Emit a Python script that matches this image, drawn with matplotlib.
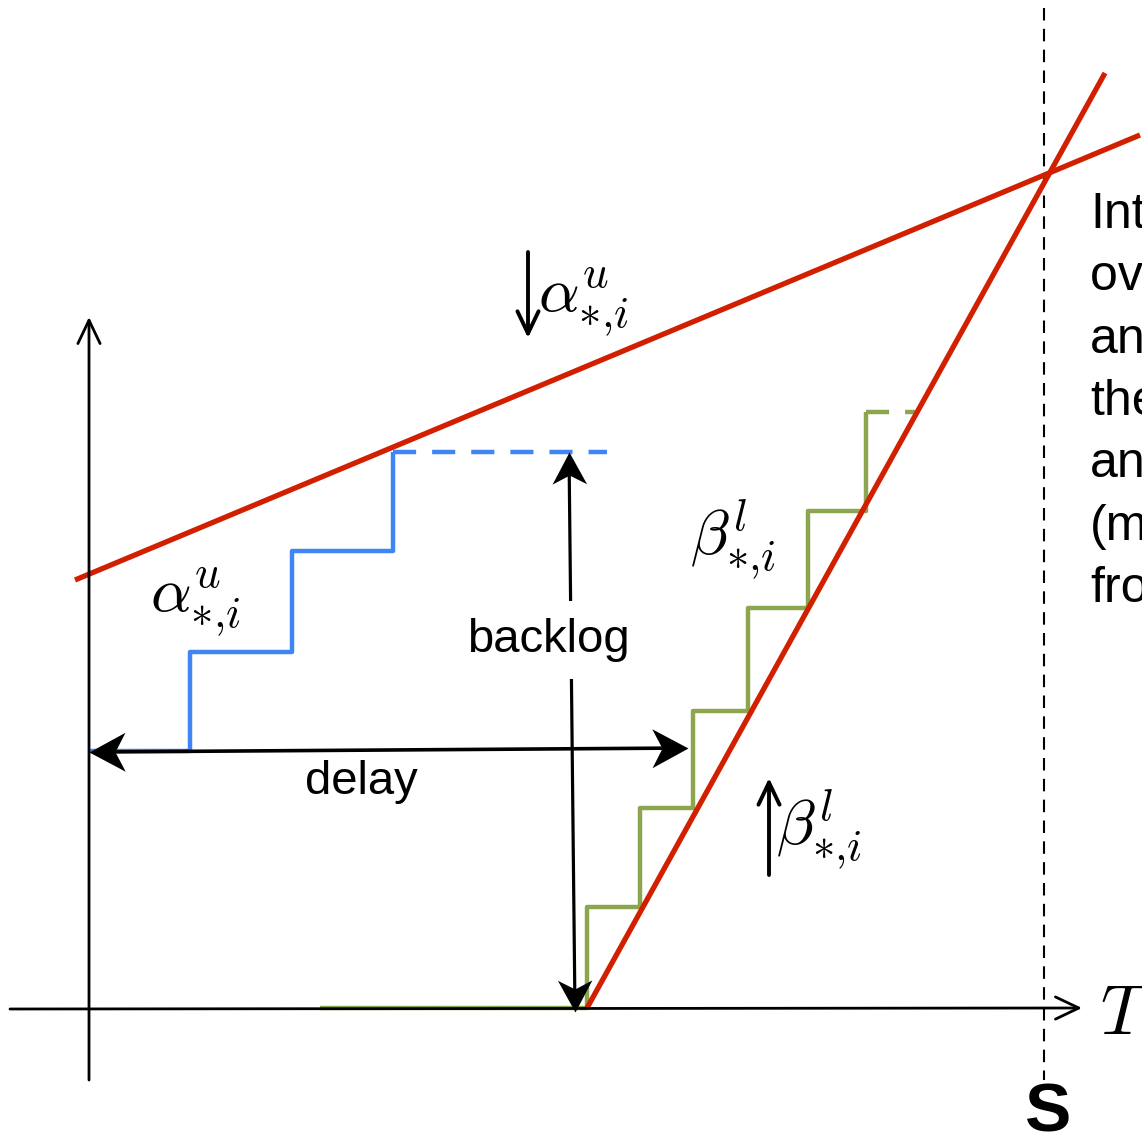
import numpy as np
import matplotlib.pyplot as plt
from matplotlib.markers import MarkerStyle
from matplotlib.path import Path
from matplotlib.transforms import Affine2D

plt.rcParams['mathtext.fontset'] = 'cm'
plt.rcParams['font.family'] = ['Liberation Sans', 'DejaVu Sans']

# curves, in drawing units (y grows downward)
alpha_x = [75, 1140]
alpha_y = [580, 135]
beta_x = [587, 1105]
beta_y = [1008, 73]

# arrival staircase (upper) and service staircase (lower)
arr_x = [89, 190, 190, 292, 292, 393, 393]
arr_y = [751, 751, 652, 652, 551, 551, 452]
arr_tail_x = [393, 607]
arr_tail_y = [452, 452]

svc_x = [320, 587, 587, 640, 640, 693, 693, 748, 748, 808, 808, 866, 866]
svc_y = [1008, 1008, 907, 907, 808, 808, 711, 711, 608, 608, 511, 511, 412]
svc_tail_x = [866, 915]
svc_tail_y = [412, 412]

s_x = 1044
side_lines = ['Intersection', 'over time', 'and', 'the', 'and', '(max', 'from']

RED = '#d11f00'
BLUE = '#3f86f4'
GREEN = '#8ba64e'

STEALTH = Path([(0, 0), (-1, 0.54), (-0.72, 0), (-1, -0.54), (0, 0)],
               [Path.MOVETO, Path.LINETO, Path.LINETO, Path.LINETO, Path.CLOSEPOLY])

fig = plt.figure(figsize=(11.42, 11.38), dpi=100)
ax = fig.add_axes([0, 0, 1, 1])
ax.set_xlim(0, 1142)
ax.set_ylim(1138, 0)
ax.axis('off')


def stealth_arrow(x0, y0, x1, y1, size, lw):
    # double-headed arrow with concave heads; y axis is inverted
    d = np.hypot(x1 - x0, y1 - y0)
    ux, uy = (x1 - x0) / d, (y1 - y0) / d
    cut = size * 0.3
    ax.plot([x0 + ux * cut, x1 - ux * cut], [y0 + uy * cut, y1 - uy * cut],
            color='black', lw=lw, solid_capstyle='butt', zorder=4)
    ang = np.degrees(np.arctan2(-(y1 - y0), x1 - x0))
    for (x, y, a) in [(x1, y1, ang), (x0, y0, ang + 180)]:
        m = MarkerStyle(STEALTH, transform=Affine2D().rotate_deg(a))
        ax.plot([x], [y], marker=m, markersize=size, color='black',
                markeredgewidth=0, zorder=4)


def open_arrow(x0, y0, x1, y1, lw=2.0, ms=40):
    ax.annotate('', xy=(x1, y1), xytext=(x0, y0),
                arrowprops=dict(arrowstyle='->,head_length=0.42,head_width=0.2',
                                lw=lw, color='black', shrinkA=0, shrinkB=0,
                                mutation_scale=ms))


# axes
open_arrow(10, 1009, 1082, 1008)
open_arrow(89, 1080, 89, 317)
ax.plot([s_x, s_x], [8, 1080], color='black', lw=1.5,
        linestyle=(0, (6, 4)))

# staircases
ax.plot(svc_x, svc_y, color=GREEN, lw=3.2, solid_capstyle='butt')
ax.plot(svc_tail_x, svc_tail_y, color=GREEN, lw=3.2, linestyle=(0, (5.2, 3.6)))
ax.plot(arr_x, arr_y, color=BLUE, lw=3.2, solid_capstyle='butt')
ax.plot(arr_tail_x, arr_tail_y, color=BLUE, lw=3.2, linestyle=(0, (5.2, 3.6)))

# bounding lines
ax.plot(alpha_x, alpha_y, color=RED, lw=3.8, solid_capstyle='butt')
ax.plot(beta_x, beta_y, color=RED, lw=3.8, solid_capstyle='butt')

# delay and backlog
stealth_arrow(89, 752, 688, 748, size=52, lw=2.6)
stealth_arrow(575, 1012, 569, 452, size=46, lw=2.3)
ax.text(548, 640, 'backlog', fontsize=34, ha='center', va='center',
        bbox=dict(boxstyle='square,pad=0.35', fc='white', ec='none'), zorder=5)
ax.text(361, 782, 'delay', fontsize=34, ha='center', va='center')

# curve labels
ax.text(150, 612, r'$\alpha^{u}_{*{,}i}$', fontsize=46, va='baseline')
ax.text(538, 312, r'$\alpha^{u}_{*{,}i}$', fontsize=46, va='baseline')
open_arrow(528, 252, 528, 338, lw=2.8, ms=38)
ax.text(690, 555, r'$\beta^{l}_{*{,}i}$', fontsize=46, va='baseline')
ax.text(776, 845, r'$\beta^{l}_{*{,}i}$', fontsize=46, va='baseline')
open_arrow(769, 875, 769, 778, lw=2.8, ms=38)

ax.text(1100, 1034, r'$T$', fontsize=50, va='baseline')
ax.text(1048, 1113, 'S', fontsize=50, fontweight='bold', ha='center', va='center')

for k, line in enumerate(side_lines):
    ax.text(1090, 228 + k * 62.3, line, fontsize=36, va='baseline')

fig.savefig('out.png', dpi=100)
